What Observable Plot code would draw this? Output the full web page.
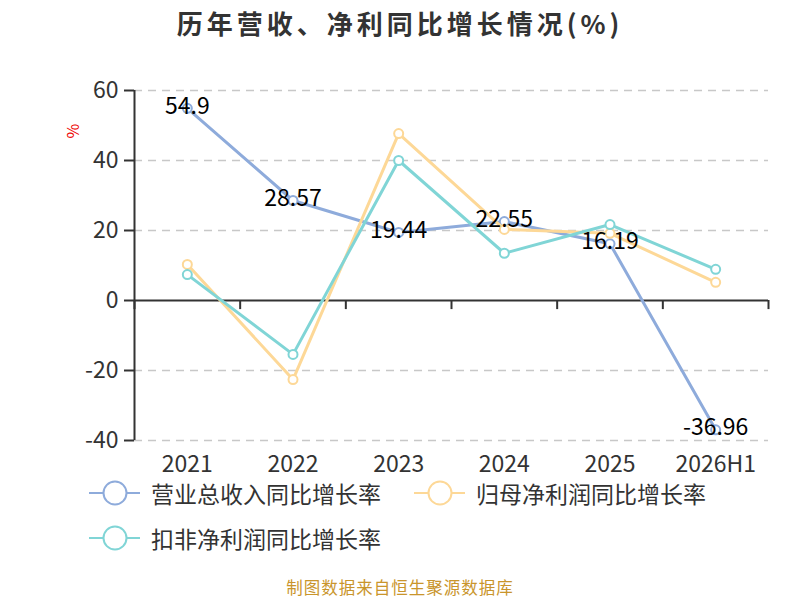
<!DOCTYPE html>
<html>
<head>
<meta charset="utf-8">
<script src="https://cdn.jsdelivr.net/npm/d3@7"></script>
<script src="https://cdn.jsdelivr.net/npm/@observablehq/plot@0.6"></script>
<style>
  body { margin:0; width:800px; height:600px; position:relative; background:#fff; font-family:"Noto Sans CJK SC","Noto Sans",sans-serif; overflow:hidden; }
  #title { position:absolute; top:0; left:0; width:800px; text-align:center; line-height:46px; font-size:26px; font-weight:bold; color:#333; letter-spacing:4px; }
  #chart { position:absolute; top:45px; left:0; }
  #pct { position:absolute; left:63px; top:120px; width:18px; height:22px; line-height:22px; text-align:center; color:#e00; font-size:16px; transform:rotate(-90deg); }
  .leg { position:absolute; display:flex; align-items:center; height:24px; line-height:24px; font-size:23px; color:#333; }
  .leg svg { margin-right:10px; overflow:visible; }
  #caption { position:absolute; top:577px; left:0; width:800px; text-align:center; font-size:16.5px; letter-spacing:1px; line-height:20px; color:#c9952c; }
</style>
</head>
<body>
<div id="title">历年营收、净利同比增长情况(%)</div>
<div id="chart"></div>
<div id="pct">%</div>
<div id="legend"></div>
<div id="caption">制图数据来自恒生聚源数据库</div>
<script>
const categories = ["2021", "2022", "2023", "2024", "2025", "2026H1"];
const revenueGrowth = [54.9, 28.57, 19.44, 22.55, 16.19, -36.96];
const netProfitGrowth = [10.3, -22.6, 47.7, 20.3, 19.2, 5.2];
const deductedProfitGrowth = [7.4, -15.4, 40.0, 13.5, 21.7, 8.9];
const seriesNames = ["营业总收入同比增长率", "归母净利润同比增长率", "扣非净利润同比增长率"];
const seriesColors = ["#8eabdb", "#fdd897", "#80d5d6"];
const yTicks = [-40, -20, 0, 20, 40, 60];

const seriesValues = [revenueGrowth, netProfitGrowth, deductedProfitGrowth];
const rows = seriesValues.map((vals, s) => vals.map((v, i) => ({i, v, s})));
const xDomain = [-0.5, categories.length - 0.5];
const yDomain = [d3.min(yTicks), d3.max(yTicks)];
const boundaries = d3.range(categories.length + 1).map(i => i - 0.5);
const tickLen = 2.6;

const marks = [
  Plot.ruleY(yTicks.filter(d => d !== 0), {stroke:"#c8c8c8", strokeWidth:1.5, strokeDasharray:"8,6"}),
  Plot.ruleX([xDomain[0]], {y1:yDomain[0], y2:yDomain[1], stroke:"#333", strokeWidth:2}),
  Plot.ruleY([0], {stroke:"#333", strokeWidth:2}),
  Plot.ruleX(boundaries, {y1:0, y2:-tickLen, stroke:"#333", strokeWidth:2}),
  Plot.axisY({ticks:yTicks, tickSize:10, tickPadding:6, fontSize:23, color:"#333", stroke:"#333", strokeWidth:2, label:null, tickFormat:d=>String(d)}),
  Plot.axisX({ticks:d3.range(categories.length), tickSize:0, tickPadding:15, fontSize:23, color:"#333", label:null, tickFormat:i=>categories[i]})
];
rows.forEach((data, s) => {
  marks.push(Plot.line(data, {x:"i", y:"v", stroke:seriesColors[s], strokeWidth:3}));
  marks.push(Plot.dot(data, {x:"i", y:"v", r:4.5, fill:"#fff", stroke:seriesColors[s], strokeWidth:2}));
});
marks.push(Plot.text(rows[0], {x:"i", y:"v", text:d=>String(d.v), fontSize:23, fill:"#000", dy:-2}));

const chart = Plot.plot({
  width:800, height:435,
  marginTop:45, marginBottom:40, marginLeft:134, marginRight:32,
  style:{fontFamily:'"Noto Sans CJK SC","Noto Sans",sans-serif', background:"transparent", overflow:"visible"},
  x:{domain:xDomain, axis:null},
  y:{domain:yDomain, axis:null},
  marks
});
document.getElementById("chart").appendChild(chart);

const legendPos = [{left:89, top:481}, {left:414, top:481}, {left:89, top:526}];
const legend = document.getElementById("legend");
seriesNames.forEach((name, s) => {
  const div = document.createElement("div");
  div.className = "leg";
  div.style.left = legendPos[s].left + "px";
  div.style.top = legendPos[s].top + "px";
  div.innerHTML = `<svg width="52" height="24"><line x1="0" x2="51" y1="12" y2="12" stroke="${seriesColors[s]}" stroke-width="2"/><circle cx="26" cy="12" r="11.5" fill="#fff" stroke="${seriesColors[s]}" stroke-width="2"/></svg><span>${name}</span>`;
  legend.appendChild(div);
});
</script>
</body>
</html>
